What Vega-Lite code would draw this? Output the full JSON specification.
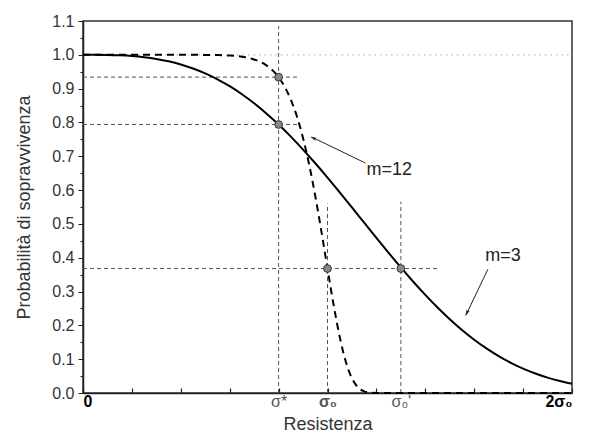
{
  "$schema": "https://vega.github.io/schema/vega-lite/v6.json",
  "width": 489,
  "height": 372,
  "autosize": "none",
  "padding": {"left": 83, "top": 21, "right": 28, "bottom": 48},
  "background": "white",
  "config": {
    "view": {"stroke": "#333", "strokeWidth": 1.5},
    "font": "Liberation Sans",
    "axis": {"labelFont": "Liberation Sans", "titleFont": "Liberation Sans", "titleFontWeight": "normal", "grid": false}
  },
  "datasets": {
    "m3": [
      {"x": 0, "p": 1}, {"x": 0.05, "p": 0.99994}, {"x": 0.1, "p": 0.99955}, {"x": 0.15, "p": 0.99848},
      {"x": 0.2, "p": 0.9964}, {"x": 0.25, "p": 0.99298}, {"x": 0.3, "p": 0.9879}, {"x": 0.35, "p": 0.98085},
      {"x": 0.4, "p": 0.97155}, {"x": 0.45, "p": 0.95973}, {"x": 0.5, "p": 0.94519}, {"x": 0.55, "p": 0.92771},
      {"x": 0.6, "p": 0.90718}, {"x": 0.65, "p": 0.88351}, {"x": 0.7, "p": 0.85668}, {"x": 0.75, "p": 0.82675},
      {"x": 0.8, "p": 0.79382}, {"x": 0.85, "p": 0.7581}, {"x": 0.9, "p": 0.71979}, {"x": 0.95, "p": 0.67929},
      {"x": 1.0, "p": 0.637}, {"x": 1.05, "p": 0.59328}, {"x": 1.1, "p": 0.54866}, {"x": 1.15, "p": 0.50364},
      {"x": 1.2, "p": 0.45872}, {"x": 1.25, "p": 0.41444}, {"x": 1.3, "p": 0.37127}, {"x": 1.35, "p": 0.32969},
      {"x": 1.4, "p": 0.29011}, {"x": 1.45, "p": 0.25287}, {"x": 1.5, "p": 0.21827}, {"x": 1.55, "p": 0.18648},
      {"x": 1.6, "p": 0.15767}, {"x": 1.65, "p": 0.13187}, {"x": 1.7, "p": 0.10908}, {"x": 1.75, "p": 0.08919},
      {"x": 1.8, "p": 0.07206}, {"x": 1.85, "p": 0.05753}, {"x": 1.9, "p": 0.04535}, {"x": 1.95, "p": 0.0353},
      {"x": 2.0, "p": 0.02711}
    ],
    "m12": [
      {"x": 0, "p": 1}, {"x": 0.2, "p": 1}, {"x": 0.4, "p": 0.99998}, {"x": 0.5, "p": 0.99976},
      {"x": 0.55, "p": 0.99923}, {"x": 0.6, "p": 0.99783}, {"x": 0.65, "p": 0.99433}, {"x": 0.7, "p": 0.98625},
      {"x": 0.75, "p": 0.96882}, {"x": 0.8, "p": 0.93359}, {"x": 0.825, "p": 0.90537}, {"x": 0.85, "p": 0.86741},
      {"x": 0.875, "p": 0.81756}, {"x": 0.9, "p": 0.75395}, {"x": 0.925, "p": 0.67545}, {"x": 0.95, "p": 0.58253},
      {"x": 0.975, "p": 0.47808}, {"x": 1.0, "p": 0.36788}, {"x": 1.025, "p": 0.26058}, {"x": 1.05, "p": 0.16596},
      {"x": 1.075, "p": 0.09238}, {"x": 1.1, "p": 0.04334}, {"x": 1.125, "p": 0.01641}, {"x": 1.15, "p": 0.00475},
      {"x": 1.175, "p": 0.00098}, {"x": 1.2, "p": 0.00013}, {"x": 1.25, "p": 0}, {"x": 1.5, "p": 0},
      {"x": 2.0, "p": 0}
    ],
    "guides": [
      {"x": 0, "y": 0.934, "x2": 0.88, "y2": 0.934},
      {"x": 0, "y": 0.794, "x2": 0.88, "y2": 0.794},
      {"x": 0, "y": 0.368, "x2": 1.46, "y2": 0.368},
      {"x": 0.8, "y": 0, "x2": 0.8, "y2": 1.085},
      {"x": 1.0, "y": 0, "x2": 1.0, "y2": 0.56},
      {"x": 1.3, "y": 0, "x2": 1.3, "y2": 0.565}
    ],
    "unity": [{"x": 0, "y": 1, "x2": 2, "y2": 1}],
    "points": [
      {"x": 0.8, "y": 0.934}, {"x": 0.8, "y": 0.794}, {"x": 1.0, "y": 0.368}, {"x": 1.3, "y": 0.368}
    ],
    "arrows": [
      {"x": 1.155, "y": 0.68, "x2": 0.935, "y2": 0.757},
      {"x": 1.656, "y": 0.366, "x2": 1.566, "y2": 0.23}
    ],
    "heads12": [{"x": 0.93, "y": 0.758}],
    "heads3": [{"x": 1.564, "y": 0.228}],
    "labels": [
      {"x": 1.253, "y": 0.66, "label": "m=12"},
      {"x": 1.718, "y": 0.404, "label": "m=3"}
    ]
  },
  "resolve": {"axis": {"x": "independent", "y": "independent"}},
  "layer": [
    {
      "data": {"name": "unity"},
      "mark": {"type": "rule", "color": "#bbb", "strokeWidth": 1.2, "strokeDash": [1.5, 4]},
      "encoding": {
        "x": {"field": "x", "type": "quantitative", "scale": {"domain": [0, 2], "nice": false},
          "axis": {"orient": "bottom", "values": [0, 0.2, 0.4, 0.6, 0.8, 1, 1.2, 1.4, 1.6, 1.8, 2], "labels": false,
            "tickSize": -5, "tickColor": "#222", "tickWidth": 1.2, "domainColor": "#222", "domainWidth": 1.5,
            "title": "Resistenza", "titleFontSize": 18, "titleColor": "#333", "titlePadding": 22}},
        "x2": {"field": "x2"},
        "y": {"field": "y", "type": "quantitative", "scale": {"domain": [0, 1.1], "nice": false},
          "axis": {"orient": "left", "values": [0, 0.1, 0.2, 0.3, 0.4, 0.5, 0.6, 0.7, 0.8, 0.9, 1.0, 1.1], "format": ".1f",
            "tickSize": 5, "tickColor": "#222", "domainColor": "#222", "domainWidth": 1.5,
            "labelFontSize": 16, "labelColor": "#333", "labelPadding": 4,
            "title": "Probabilità di sopravvivenza", "titleFontSize": 18, "titleColor": "#333", "titlePadding": 18}},
        "y2": {"field": "y2"}
      }
    },
    {
      "data": {"name": "guides"},
      "mark": {"type": "rule", "color": "#555", "strokeWidth": 1, "strokeDash": [4, 3]},
      "encoding": {
        "x": {"field": "x", "type": "quantitative",
          "axis": {"orient": "bottom", "values": [0, 0.8, 1, 1.3, 2], "ticks": false, "domain": false, "title": null,
            "labelPadding": 0, "labelFontSize": 16,
            "labelExpr": "datum.value == 0 ? '0' : datum.value == 0.8 ? 'σ*' : datum.value == 1 ? 'σ₀' : datum.value == 1.3 ? \"σ₀'\" : '2σ₀'",
            "labelFontWeight": {"condition": {"test": "datum.value == 0 || datum.value == 2 || datum.value == 1", "value": "bold"}, "value": "normal"},
            "labelColor": {"condition": {"test": "datum.value == 0 || datum.value == 2", "value": "#000"}, "value": "#555"}}},
        "x2": {"field": "x2"},
        "y": {"field": "y", "type": "quantitative",
          "axis": {"orient": "left", "values": [0.05, 0.15, 0.25, 0.35, 0.45, 0.55, 0.65, 0.75, 0.85, 0.95, 1.05],
            "labels": false, "domain": false, "title": null, "tickSize": 3, "tickColor": "#222"}},
        "y2": {"field": "y2"}
      }
    },
    {
      "data": {"name": "m3"},
      "mark": {"type": "line", "color": "#000", "strokeWidth": 2, "interpolate": "monotone"},
      "encoding": {
        "x": {"field": "x", "type": "quantitative", "axis": null},
        "y": {"field": "p", "type": "quantitative", "axis": null}
      }
    },
    {
      "data": {"name": "m12"},
      "mark": {"type": "line", "color": "#000", "strokeWidth": 2, "strokeDash": [7, 5], "interpolate": "monotone"},
      "encoding": {
        "x": {"field": "x", "type": "quantitative", "axis": null},
        "y": {"field": "p", "type": "quantitative", "axis": null}
      }
    },
    {
      "data": {"name": "points"},
      "mark": {"type": "point", "filled": true, "fill": "#888", "stroke": "#333", "strokeWidth": 1, "size": 60, "opacity": 1},
      "encoding": {
        "x": {"field": "x", "type": "quantitative", "axis": null},
        "y": {"field": "y", "type": "quantitative", "axis": null}
      }
    },
    {
      "data": {"name": "arrows"},
      "mark": {"type": "rule", "color": "#222", "strokeWidth": 1},
      "encoding": {
        "x": {"field": "x", "type": "quantitative", "axis": null},
        "y": {"field": "y", "type": "quantitative", "axis": null},
        "x2": {"field": "x2"},
        "y2": {"field": "y2"}
      }
    },
    {
      "data": {"name": "heads12"},
      "mark": {"type": "point", "shape": "M0,0L0.45,1.7L0,1.3L-0.45,1.7Z", "filled": true, "color": "#222", "size": 60, "angle": 296, "opacity": 1},
      "encoding": {
        "x": {"field": "x", "type": "quantitative", "axis": null},
        "y": {"field": "y", "type": "quantitative", "axis": null}
      }
    },
    {
      "data": {"name": "heads3"},
      "mark": {"type": "point", "shape": "M0,0L0.45,1.7L0,1.3L-0.45,1.7Z", "filled": true, "color": "#222", "size": 60, "angle": 206, "opacity": 1},
      "encoding": {
        "x": {"field": "x", "type": "quantitative", "axis": null},
        "y": {"field": "y", "type": "quantitative", "axis": null}
      }
    },
    {
      "data": {"name": "labels"},
      "mark": {"type": "text", "align": "center", "baseline": "middle", "fontSize": 18, "color": "#222", "font": "Liberation Sans"},
      "encoding": {
        "x": {"field": "x", "type": "quantitative", "axis": null},
        "y": {"field": "y", "type": "quantitative", "axis": null},
        "text": {"field": "label"}
      }
    }
  ]
}
